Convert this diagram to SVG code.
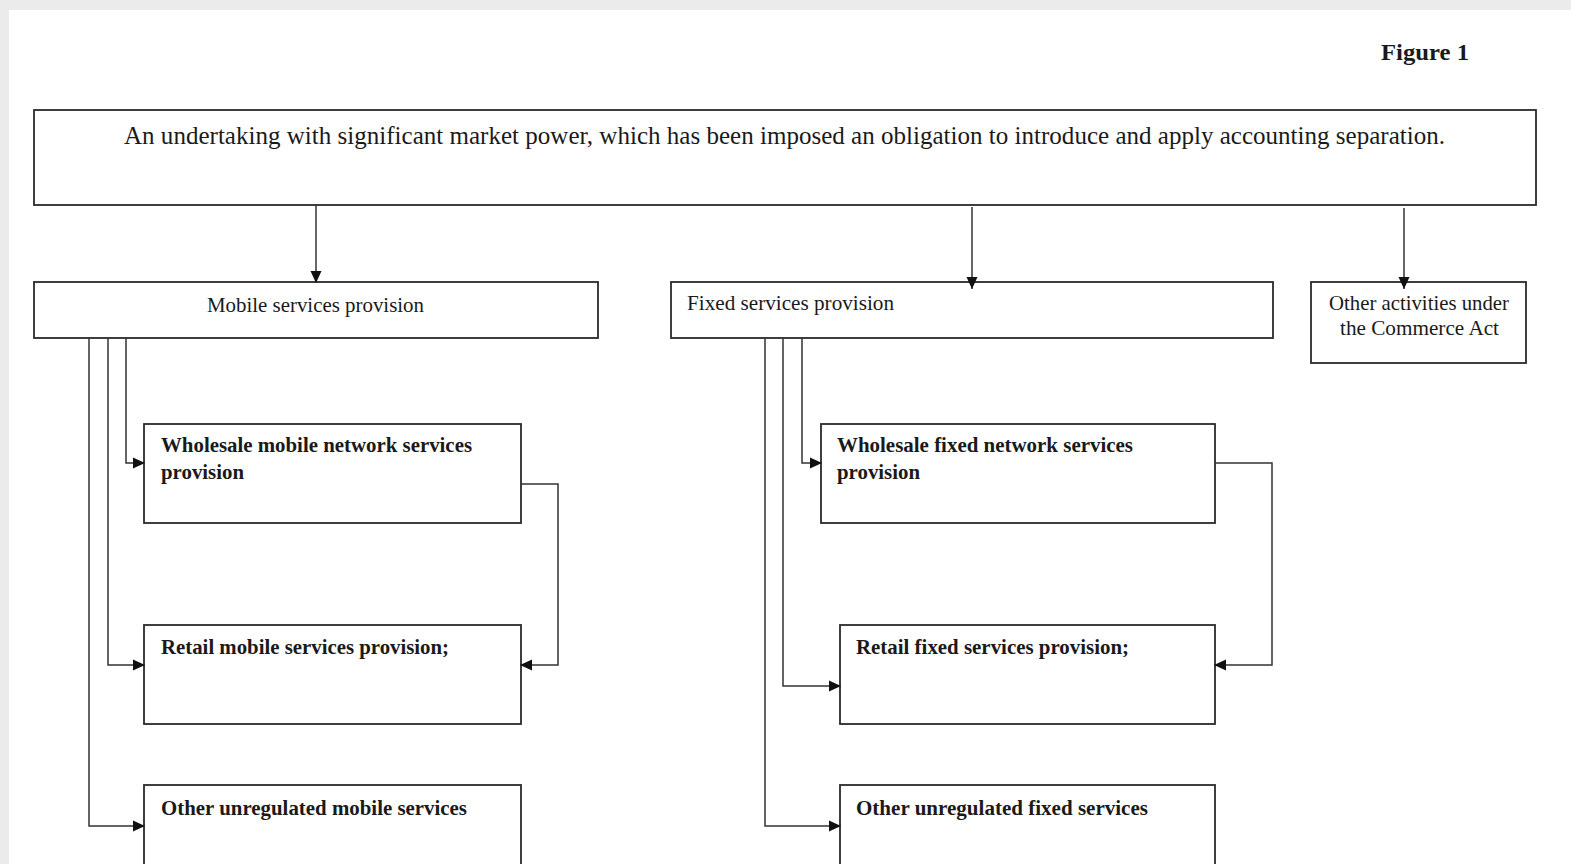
<svg xmlns="http://www.w3.org/2000/svg" width="1571" height="864" viewBox="0 0 1571 864">
<defs>
<marker id="ah" markerUnits="userSpaceOnUse" markerWidth="14" markerHeight="12" refX="12" refY="6" orient="auto">
<path d="M0,0.5 L12,6 L0,11.5 Z" fill="#111"/>
</marker>
<style>
.box{fill:#fff;stroke:#2a2a2a;stroke-width:1.8}
.ln{fill:none;stroke:#333;stroke-width:1.5}
.t{font-family:"Liberation Serif","Times New Roman",serif;fill:#1a1a1a}
.r{font-size:21.5px}
.b{font-size:21.5px;font-weight:bold}
</style>
</defs>
<rect x="0" y="0" width="1571" height="864" fill="#ebebeb"/>
<rect x="9" y="10" width="1562" height="854" fill="#fff"/>
<text class="t" x="1381" y="60" font-size="23" font-weight="bold" textLength="88" lengthAdjust="spacingAndGlyphs">Figure 1</text>

<g id="top">
<rect class="box" x="34" y="110" width="1502" height="95"/>
<text class="t" x="124" y="144" font-size="26" textLength="1321" lengthAdjust="spacingAndGlyphs">An undertaking with significant market power, which has been imposed an obligation to introduce and apply accounting separation.</text>
</g>
<g id="mobile">
<rect class="box" x="34" y="282" width="564" height="56"/>
<text class="t r" x="207" y="312" textLength="217" lengthAdjust="spacingAndGlyphs">Mobile services provision</text>
</g>
<g id="fixed">
<rect class="box" x="671" y="282" width="602" height="56"/>
<text class="t r" x="687" y="310" textLength="207" lengthAdjust="spacingAndGlyphs">Fixed services provision</text>
</g>
<g id="other">
<rect class="box" x="1311" y="282" width="215" height="81"/>
<text class="t r" x="1329" y="310" textLength="180" lengthAdjust="spacingAndGlyphs">Other activities under</text>
<text class="t r" x="1340" y="335" textLength="159" lengthAdjust="spacingAndGlyphs">the Commerce Act</text>
</g>
<g id="wholesale-mobile">
<rect class="box" x="144" y="424" width="377" height="99"/>
<text class="t b" x="161" y="452" textLength="311" lengthAdjust="spacingAndGlyphs">Wholesale mobile network services</text>
<text class="t b" x="161" y="479" textLength="83" lengthAdjust="spacingAndGlyphs">provision</text>
</g>
<g id="retail-mobile">
<rect class="box" x="144" y="625" width="377" height="99"/>
<text class="t b" x="161" y="654" textLength="288" lengthAdjust="spacingAndGlyphs">Retail mobile services provision;</text>
</g>
<g id="unreg-mobile">
<rect class="box" x="144" y="785" width="377" height="95"/>
<text class="t b" x="161" y="815" textLength="306" lengthAdjust="spacingAndGlyphs">Other unregulated mobile services</text>
</g>
<g id="wholesale-fixed">
<rect class="box" x="821" y="424" width="394" height="99"/>
<text class="t b" x="837" y="452" textLength="296" lengthAdjust="spacingAndGlyphs">Wholesale fixed network services</text>
<text class="t b" x="837" y="479" textLength="83" lengthAdjust="spacingAndGlyphs">provision</text>
</g>
<g id="retail-fixed">
<rect class="box" x="840" y="625" width="375" height="99"/>
<text class="t b" x="856" y="654" textLength="273" lengthAdjust="spacingAndGlyphs">Retail fixed services provision;</text>
</g>
<g id="unreg-fixed">
<rect class="box" x="840" y="785" width="375" height="95"/>
<text class="t b" x="856" y="815" textLength="292" lengthAdjust="spacingAndGlyphs">Other unregulated fixed services</text>
</g>

<g id="connectors">
<path class="ln" d="M316,205 V283" marker-end="url(#ah)"/>
<path class="ln" d="M972,207 V289" marker-end="url(#ah)"/>
<path class="ln" d="M1404,208 V289" marker-end="url(#ah)"/>
<path class="ln" d="M126,338 V463 H145" marker-end="url(#ah)"/>
<path class="ln" d="M108,338 V665 H145" marker-end="url(#ah)"/>
<path class="ln" d="M89,338 V826 H145" marker-end="url(#ah)"/>
<path class="ln" d="M521,484 H558 V665 H520" marker-end="url(#ah)"/>
<path class="ln" d="M802,338 V463 H822" marker-end="url(#ah)"/>
<path class="ln" d="M783,338 V686 H841" marker-end="url(#ah)"/>
<path class="ln" d="M765,338 V826 H841" marker-end="url(#ah)"/>
<path class="ln" d="M1215,463 H1272 V665 H1214" marker-end="url(#ah)"/>
</g>
</svg>
